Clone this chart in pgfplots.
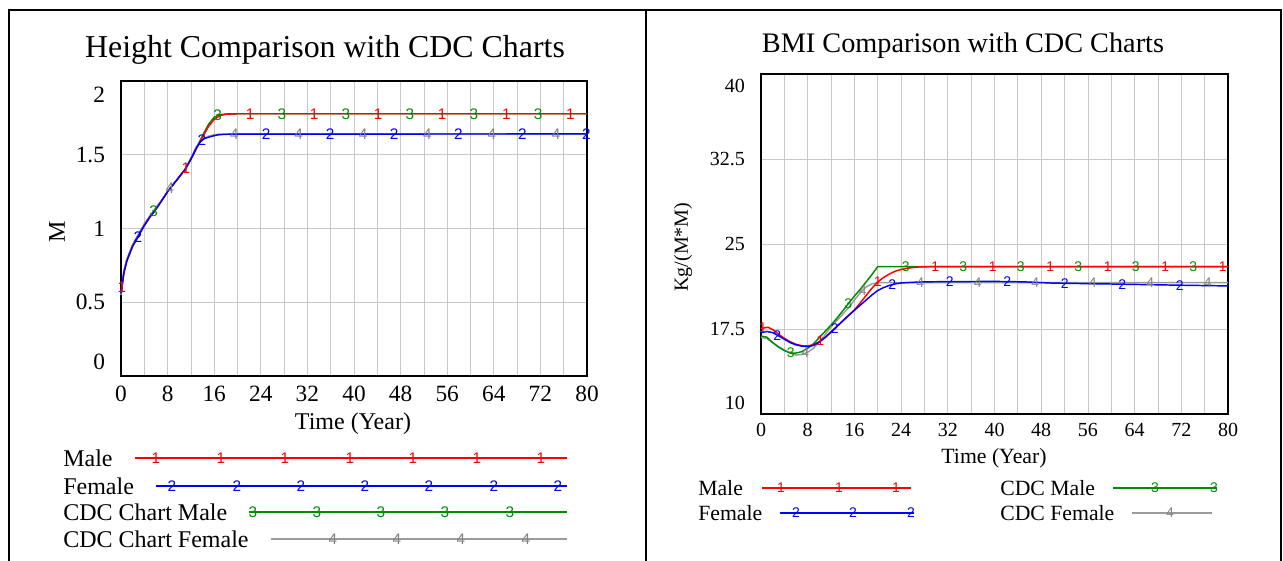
\documentclass[border=0pt]{standalone}
\usepackage{pgfplots}
\pgfplotsset{compat=1.18}
\usepackage{fontspec}
\setmainfont{Liberation Serif}
\newfontfamily\mk{Liberation Sans}
\definecolor{cred}{RGB}{255,0,0}
\definecolor{cblue}{RGB}{0,0,255}
\definecolor{cgreen}{RGB}{0,140,0}
\definecolor{cgray}{RGB}{155,155,155}
\definecolor{cgrayt}{RGB}{130,130,130}
\definecolor{gridc}{RGB}{200,200,200}
\newcommand\mkL{\mk\fontsize{11.5}{12}\selectfont}
\newcommand\mkR{\mk\fontsize{10.5}{11}\selectfont}
\newcommand\sh[2]{\raisebox{#1}[\height][\depth]{#2}}
\pgfplotsset{
  vstyle/.style={scale only axis, anchor=south west, xmin=0, xmax=80,
    xtick={0,8,...,80}, minor xtick={4,12,...,76},
    xticklabels={0,8,16,24,32,40,48,56,64,72,80},
    grid=both, grid style={draw=gridc, line width=0.6pt},
    major tick length=0pt, minor tick length=0pt,
    axis line style={line width=1.5pt, black}, clip=false},
  dl/.style={line width=1.1pt, mark=none},
  tm/.style={only marks, mark=text, text mark={#1}, text mark as node=true},
}
\begin{document}
\begin{tikzpicture}
\useasboundingbox (0,0) rectangle (962.25pt,420.75pt);
% ---------------- Left: Height ----------------
\begin{axis}[vstyle, at={(90.75pt,138.75pt)}, width=349.5pt, height=221.25pt,
  ymin=0, ymax=2, ytick={0,0.5,1,1.5,2},
  yticklabels={\sh{10.5pt}{0},0.5,1,1.5,\sh{-10.5pt}{2}},
  ticklabel style={font=\fontsize{17.5}{18}\selectfont},
  xticklabel style={yshift=-4pt}, yticklabel style={xshift=-8.5pt},
  text mark style={font=\mkL, inner sep=0pt}]
\addplot[dl, cgreen] coordinates {(0,0.55)(0.5,0.71)(1,0.79)(2,0.89)(3,0.96)(4,1.03)(5,1.085)(6,1.14)(7,1.19)(8,1.25)(9,1.30)(10,1.35)(11,1.40)(12,1.47)(13,1.55)(14,1.63)(15,1.705)(16,1.755)(17,1.772)(18,1.776)(20,1.778)(80,1.778)};
\addplot[dl, cgray] coordinates {(0,0.55)(0.5,0.71)(1,0.79)(2,0.89)(3,0.96)(4,1.03)(5,1.085)(6,1.14)(7,1.19)(8,1.25)(9,1.30)(10,1.35)(11,1.40)(12,1.48)(13,1.56)(14,1.605)(15,1.625)(16,1.636)(17,1.64)(20,1.641)(80,1.641)};
\addplot[dl, cred] coordinates {(0,0.56)(0.5,0.70)(1,0.78)(2,0.88)(3,0.95)(4,1.02)(5,1.08)(6,1.13)(7,1.19)(8,1.25)(9,1.30)(10,1.35)(11,1.40)(12,1.47)(13,1.545)(14,1.62)(15,1.69)(16,1.74)(17,1.765)(18,1.775)(20,1.778)(80,1.778)};
\addplot[dl, cblue] coordinates {(0,0.56)(0.5,0.70)(1,0.78)(2,0.88)(3,0.95)(4,1.02)(5,1.08)(6,1.13)(7,1.19)(8,1.25)(9,1.30)(10,1.35)(11,1.40)(12,1.47)(13,1.55)(13.6,1.588)(14.3,1.61)(15.3,1.622)(16.5,1.634)(17.6,1.638)(19,1.640)(80,1.641)};
\addplot[tm={3}, cgreen] coordinates {(5.6,1.118)(16.6,1.765)(27.6,1.778)(38.6,1.778)(49.6,1.778)(60.6,1.778)(71.6,1.778)};
\addplot[tm={4}, cgrayt] coordinates {(8.4,1.27)(19.45,1.641)(30.5,1.641)(41.55,1.641)(52.6,1.641)(63.65,1.641)(74.7,1.641)};
\addplot[tm={1}, cred] coordinates {(0.15,0.60)(11.15,1.41)(22.15,1.778)(33.15,1.778)(44.15,1.778)(55.15,1.778)(66.15,1.778)(77.15,1.778)};
\addplot[tm={2}, cblue] coordinates {(2.9,0.94)(13.9,1.597)(24.9,1.641)(35.9,1.641)(46.9,1.641)(57.9,1.641)(68.9,1.641)(79.9,1.641)};
\end{axis}
% ---------------- Right: BMI ----------------
\begin{axis}[vstyle, at={(570.75pt,110.25pt)}, width=350.25pt, height=255pt,
  ymin=10, ymax=40, ytick={10,17.5,25,32.5,40},
  yticklabels={\sh{8.25pt}{10},17.5,25,32.5,\sh{-9pt}{40}},
  ticklabel style={font=\fontsize{15}{16}\selectfont},
  xticklabel style={yshift=-3.4pt}, yticklabel style={xshift=-8.5pt},
  text mark style={font=\mkR, inner sep=0pt}]
\addplot[dl, cgray] coordinates {(0,16.77)(1,16.65)(2,16.3)(3,15.95)(4,15.65)(5,15.38)(6,15.2)(7,15.25)(8,15.45)(9,15.8)(10,16.35)(11,17.0)(12,17.7)(13,18.25)(14,18.8)(15,19.4)(16,20.05)(17,20.7)(18,21.2)(19,21.48)(20,21.6)(80,21.6)};
\addplot[dl, cgreen] coordinates {(0,16.88)(1,16.78)(2,16.3)(3,15.9)(4,15.6)(5,15.38)(6,15.38)(7,15.5)(8,15.8)(9,16.2)(10,16.75)(11,17.3)(12,17.85)(13,18.45)(14,19.1)(15,19.76)(16,20.4)(17,21.0)(18,21.65)(19,22.3)(20,23.0)(80,23.0)};
\addplot[dl, cred] coordinates {(0,17.56)(1.2,17.65)(2,17.45)(3,17.05)(4,16.68)(5,16.38)(6,16.15)(7,16.03)(8,16.0)(9,16.12)(10,16.38)(11,16.78)(12,17.26)(13,17.74)(14,18.23)(15,18.71)(16,19.18)(17,19.8)(18,20.45)(19,21.1)(20,21.65)(21,22.05)(22,22.35)(23,22.6)(24,22.75)(25,22.85)(26,22.92)(27,22.97)(29,23.0)(80,23.0)};
\addplot[dl, cblue] coordinates {(0,17.18)(1,17.28)(2,17.18)(3,16.9)(4,16.6)(5,16.3)(6,16.1)(7,15.98)(8,15.94)(9,16.05)(10,16.35)(11,16.75)(12,17.22)(13,17.72)(14,18.2)(15,18.68)(16,19.15)(17,19.6)(18,20.05)(19,20.5)(20,20.9)(21,21.15)(22,21.35)(23,21.48)(24,21.56)(26,21.62)(28,21.66)(32,21.68)(40,21.7)(45,21.66)(50,21.55)(60,21.47)(70,21.38)(80,21.3)};
\addplot[tm={3}, cgreen] coordinates {(5.1,15.38)(14.95,19.73)(24.8,23.0)(34.65,23.0)(44.5,23.0)(54.35,23.0)(64.2,23.0)(74.05,23.0)};
\addplot[tm={4}, cgrayt] coordinates {(7.6,15.37)(17.45,20.9)(27.3,21.6)(37.15,21.6)(47.0,21.6)(56.85,21.6)(66.7,21.6)(76.55,21.6)};
\addplot[tm={1}, cred] coordinates {(0.3,17.59)(10.15,16.44)(20.0,21.65)(29.85,23.0)(39.7,23.0)(49.55,23.0)(59.4,23.0)(69.25,23.0)(79.1,23.0)};
\addplot[tm={2}, cblue] coordinates {(2.8,16.96)(12.65,17.55)(22.5,21.42)(32.35,21.68)(42.2,21.68)(52.05,21.53)(61.9,21.45)(71.75,21.37)};
\end{axis}
% ---------------- Frame, titles, labels, legends ----------------
\begin{scope}[x=0.75pt,y=-0.75pt,yshift=420.75pt]
\draw[line width=1.5pt] (9,561) -- (9,10) -- (1281,10) -- (1281,561);
\draw[line width=1.5pt] (646,10) -- (646,561);
\node[anchor=base, font=\fontsize{23.9}{26}\selectfont, inner sep=0pt] at (325,58) {Height Comparison with CDC Charts};
\node[anchor=base, font=\fontsize{21.2}{24}\selectfont, inner sep=0pt] at (963,53) {BMI Comparison with CDC Charts};
\node[font=\fontsize{18}{20}\selectfont] at (353,424) {Time (Year)};
\node[font=\fontsize{16.3}{18}\selectfont] at (994,458) {Time (Year)};
\node[rotate=90, font=\fontsize{18}{20}\selectfont] at (57,232) {M};
\node[rotate=90, font=\fontsize{15}{17}\selectfont] at (683,247) {Kg/(M*M)};
% left legend
\begin{scope}[font=\fontsize{18}{20}\selectfont]
\node[anchor=west, inner sep=0pt] at (63,458) {Male};
\node[anchor=west, inner sep=0pt] at (63,486) {Female};
\node[anchor=west, inner sep=0pt] at (63,512) {CDC Chart Male};
\node[anchor=west, inner sep=0pt] at (63,539) {CDC Chart Female};
\end{scope}
\draw[cred, line width=1.1pt] (135,458) -- (567,458);
\foreach \x in {156,221,285,350,413,477,541} \node[text=cred, font=\mkL, inner sep=0pt] at (\x,458) {1};
\draw[cblue, line width=1.1pt] (156,486) -- (567,486);
\foreach \x in {172,237,301,365,429,494,558} \node[text=cblue, font=\mkL, inner sep=0pt] at (\x,486) {2};
\draw[cgreen, line width=1.1pt] (249,512) -- (567,512);
\foreach \x in {253,317,381,445,510} \node[text=cgreen, font=\mkL, inner sep=0pt] at (\x,512) {3};
\draw[cgray, line width=1.1pt] (271,539) -- (567,539);
\foreach \x in {333,397,461,526} \node[text=cgrayt, font=\mkL, inner sep=0pt] at (\x,539) {4};
% right legend
\begin{scope}[font=\fontsize{16.3}{18}\selectfont]
\node[anchor=west, inner sep=0pt] at (698,488) {Male};
\node[anchor=west, inner sep=0pt] at (698,513) {Female};
\node[anchor=west, inner sep=0pt] at (1000,488) {CDC Male};
\node[anchor=west, inner sep=0pt] at (1000,513) {CDC Female};
\end{scope}
\draw[cred, line width=1.1pt] (762,488) -- (911,488);
\foreach \x in {781,839,896} \node[text=cred, font=\mkR, inner sep=0pt] at (\x,488) {1};
\draw[cblue, line width=1.1pt] (780,513) -- (914,513);
\foreach \x in {796,853,911} \node[text=cblue, font=\mkR, inner sep=0pt] at (\x,513) {2};
\draw[cgreen, line width=1.1pt] (1113,488) -- (1217,488);
\foreach \x in {1155,1214} \node[text=cgreen, font=\mkR, inner sep=0pt] at (\x,488) {3};
\draw[cgray, line width=1.1pt] (1132,513) -- (1212,513);
\foreach \x in {1170} \node[text=cgrayt, font=\mkR, inner sep=0pt] at (\x,513) {4};
\end{scope}
\end{tikzpicture}
\end{document}
